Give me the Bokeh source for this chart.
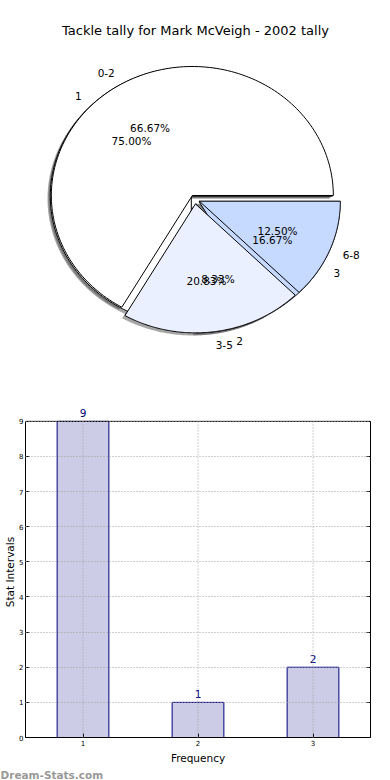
import numpy as np
from bokeh.plotting import figure
from bokeh.models import (Range1d, Label, LabelSet, ColumnDataSource,
                          FixedTicker, LinearAxis, Span, Title)
from bokeh.layouts import column
from bokeh.core.properties import value
from bokeh.embed import file_html
from bokeh.resources import INLINE

# ---------------- data ----------------
title_text = "Tackle tally for Mark McVeigh - 2002 tally"
range_labels = ["0-2", "3-5", "6-8"]
range_counts = [16, 5, 3]
freq_labels = ["1", "2", "3"]
freq_counts = [9, 1, 2]
slice_colors = ["#ffffff", "#eaf0ff", "#c6d9ff"]
bar_x = [1, 2, 3]
bar_heights = [9, 1, 2]
y_ticks = [0, 1, 2, 3, 4, 5, 6, 7, 8, 9]
x_label = "Frequency"
y_label = "Stat Intervals"
watermark = "Dream-Stats.com"

EXPLODE = 0.035
FONT = "DejaVu Sans"

# shared horizontal frame (plots in a column share frame edges)
FL, FR = 25, 370          # frame left / right in canvas px
W = 390


def pie_geometry(labels, counts):
    v = np.asarray(counts, float)
    frac = v / v.sum()
    ends = np.cumsum(frac) * 2 * np.pi
    starts = ends - frac * 2 * np.pi
    wedge = dict(xs=[], ys=[], sxs=[], sys=[], color=[])
    lab_l = dict(x=[], y=[], t=[])
    lab_r = dict(x=[], y=[], t=[])
    pct = dict(x=[], y=[], t=[])
    for i, (s, e) in enumerate(zip(starts, ends)):
        m = 0.5 * (s + e)
        cx, cy = EXPLODE * np.cos(m), EXPLODE * np.sin(m)
        t = np.linspace(s, e, 160)
        xs = np.concatenate([[cx], cx + np.cos(t)])
        ys = np.concatenate([[cy], cy + np.sin(t)])
        wedge["xs"].append(xs)
        wedge["ys"].append(ys)
        wedge["sxs"].append(xs - 0.02)
        wedge["sys"].append(ys - 0.02)
        wedge["color"].append(slice_colors[i])
        lx, ly = cx + 1.1 * np.cos(m), cy + 1.1 * np.sin(m)
        tgt = lab_l if np.cos(m) >= 0 else lab_r
        tgt["x"].append(lx)
        tgt["y"].append(ly)
        tgt["t"].append(labels[i])
        pct["x"].append(cx + 0.6 * np.cos(m))
        pct["y"].append(cy + 0.6 * np.sin(m))
        pct["t"].append("%.2f%%" % (100 * frac[i]))
    return wedge, lab_l, lab_r, pct


# ---------------- pie figure ----------------
cx_px, cy_px = 194.3, 198.9      # centre on canvas
rx_px, ry_px = 141.0, 129.0      # pixels per data unit
H1 = 400
p1 = figure(width=W, height=H1,
            x_range=Range1d((FL - cx_px) / rx_px, (FR - cx_px) / rx_px),
            y_range=Range1d(-(H1 - cy_px) / ry_px, cy_px / ry_px),
            x_axis_type=None, y_axis_type=None,
            min_border_left=FL, min_border_right=W - FR,
            min_border_top=0, min_border_bottom=0,
            output_backend="svg", toolbar_location=None)
p1.grid.visible = False
p1.outline_line_color = None

geo_b = pie_geometry(freq_labels, freq_counts)
geo_a = pie_geometry(range_labels, range_counts)

for g in (geo_b, geo_a):
    src = ColumnDataSource(g[0])
    p1.patches(xs="sxs", ys="sys", source=src, fill_color="#4d4d4d",
               fill_alpha=0.5, line_color=None)
for g in (geo_b, geo_a):
    src = ColumnDataSource(g[0])
    p1.patches(xs="xs", ys="ys", source=src, fill_color="color",
               line_color="black", line_width=1)

for g in (geo_b, geo_a):
    _, lab_l, lab_r, pct = g
    p1.text(x="x", y="y", text="t", source=ColumnDataSource(lab_l),
            text_align="left", text_baseline="middle",
            text_font=value(FONT), text_font_size="10.5px", text_color="black")
    p1.text(x="x", y="y", text="t", source=ColumnDataSource(lab_r),
            text_align="right", text_baseline="middle",
            text_font=value(FONT), text_font_size="10.5px", text_color="black")
    p1.text(x="x", y="y", text="t", source=ColumnDataSource(pct),
            text_align="center", text_baseline="middle",
            text_font=value(FONT), text_font_size="10.5px", text_color="black")

p1.add_layout(Label(x=(195.0 - cx_px) / rx_px, y=(cy_px - 30.0) / ry_px,
                    text=title_text, text_align="center",
                    text_baseline="middle", text_font=FONT,
                    text_font_size="13px", text_color="black"))

# ---------------- bar figure ----------------
H2 = 380
frame_top9 = 21          # canvas y of value 9
frame_bottom = 340       # canvas y of value 0
extra_top = 15           # room above 9 for the value label
ppu = (frame_bottom - frame_top9) / 9.0
y_end = 9 + extra_top / ppu

p2 = figure(width=W, height=H2, x_range=Range1d(0.5, 3.5),
            y_range=Range1d(0, y_end), min_border_left=FL,
            min_border_right=W - FR, min_border_top=frame_top9 - extra_top,
            min_border_bottom=H2 - frame_bottom,
            output_backend="svg", toolbar_location=None)
p2.outline_line_color = None

bsrc = ColumnDataSource(dict(x=bar_x, top=bar_heights,
                             lab=[str(v) for v in bar_heights]))
p2.vbar(x="x", top="top", width=0.45, source=bsrc, fill_color="#ccccE6",
        line_color="#000080", line_width=1)

# grid: horizontal lines via Grid, vertical dotted lines stop at top tick
p2.xgrid.visible = False
p2.ygrid.grid_line_color = "#a0a0a0"
p2.ygrid.grid_line_dash = "1 2"
p2.ygrid.grid_line_width = 1
p2.ygrid.level = "overlay"
gsrc = ColumnDataSource(dict(x=bar_x, y0=[min(y_ticks)] * len(bar_x),
                             y1=[max(y_ticks)] * len(bar_x)))
p2.segment(x0="x", y0="y0", x1="x", y1="y1", source=gsrc,
           line_color="#a0a0a0", line_dash="1 2", line_width=1,
           level="overlay")

p2.add_layout(LabelSet(x="x", y="top", text="lab", source=bsrc, y_offset=4,
                       text_align="center", text_baseline="bottom",
                       text_font=value(FONT), text_font_size="10.5px",
                       text_color="#000080"))

right_axis = LinearAxis()
p2.add_layout(right_axis, "right")

p2.xaxis.ticker = FixedTicker(ticks=bar_x)
p2.yaxis.ticker = FixedTicker(ticks=y_ticks)
for ax in (p2.xaxis[0], p2.yaxis[0], right_axis):
    ax.major_label_text_font = FONT
    ax.major_label_text_font_size = "7px"
    ax.major_label_text_color = "black"
    ax.major_tick_in = 4
    ax.major_tick_out = 0
    ax.minor_tick_line_color = None
    ax.axis_line_color = "black"
    ax.major_tick_line_color = "black"
    ax.major_label_standoff = 2
    ax.axis_label_text_color = "black"
p2.yaxis.bounds = (0, 9)
right_axis.major_label_text_alpha = 0
right_axis.major_label_text_font_size = "1px"

p2.xaxis.axis_label = x_label
p2.xaxis.axis_label_text_font = FONT
p2.xaxis.axis_label_text_font_size = "10.5px"
p2.xaxis.axis_label_text_font_style = "normal"
p2.xaxis.axis_label_standoff = 3

p2.yaxis[0].axis_label = y_label
p2.yaxis[0].axis_label_text_font = FONT
p2.yaxis[0].axis_label_text_font_size = "10.5px"
p2.yaxis[0].axis_label_text_font_style = "normal"
p2.yaxis[0].axis_label_standoff = 0

p2.add_layout(Span(location=9, dimension="width", line_color="black",
                   line_width=1))

p2.add_layout(Title(text=watermark, align="left", offset=-FL, standoff=0,
                    text_font=FONT, text_font_size="10.5px",
                    text_font_style="bold", text_color="#999999"),
              "below")

layout = column(p1, p2)
open("out.html", "w").write(file_html(layout, INLINE))
